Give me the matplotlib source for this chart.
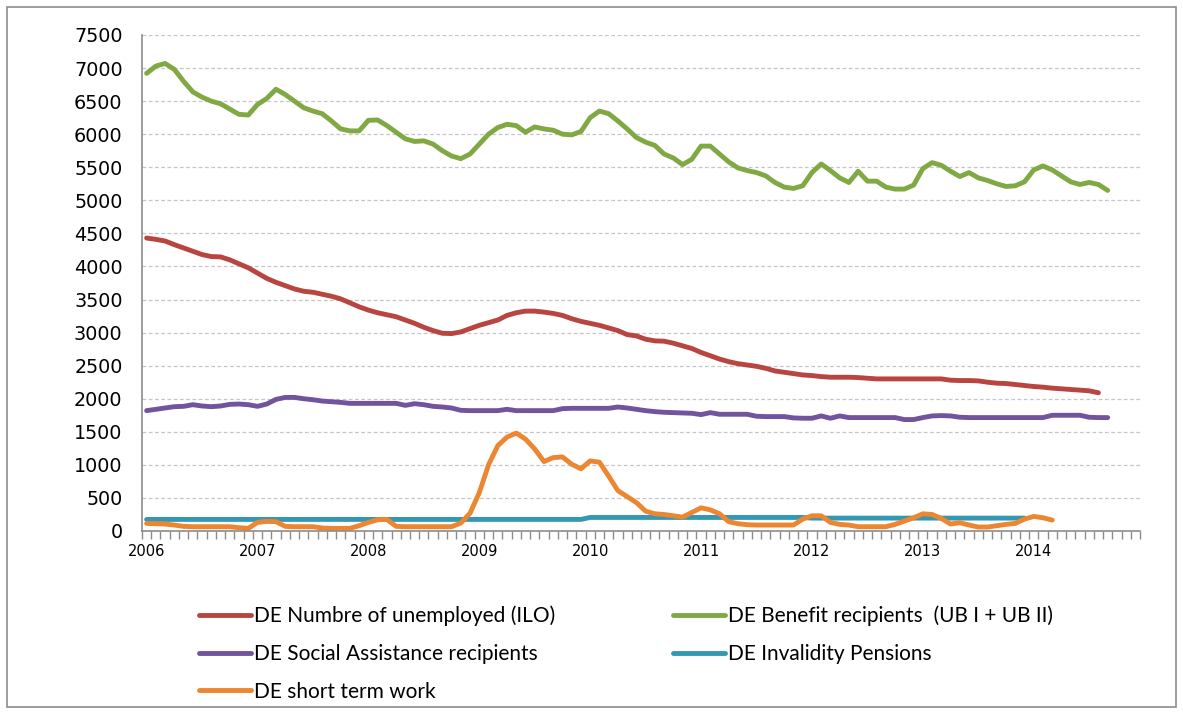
import numpy as np
import matplotlib
matplotlib.use('Agg')
from matplotlib import pyplot as plt
from matplotlib.patches import Rectangle

# monthly values, Jan 2006 onwards (thousands)
years = ['2006', '2007', '2008', '2009', '2010', '2011', '2012', '2013', '2014']

unemployed = [4430, 4410, 4385, 4330, 4280, 4230, 4180, 4150, 4145, 4100, 4040, 3980,
              3900, 3820, 3760, 3710, 3660, 3625, 3610, 3580, 3550, 3510, 3450, 3390,
              3340, 3300, 3270, 3240, 3190, 3140, 3080, 3030, 2990, 2985, 3010, 3060,
              3110, 3150, 3190, 3260, 3300, 3325, 3325, 3310, 3290, 3260, 3210, 3170,
              3140, 3110, 3070, 3030, 2970, 2950, 2900, 2875, 2870, 2840, 2800, 2760,
              2700, 2650, 2600, 2560, 2530, 2510, 2490, 2460, 2420, 2400, 2380, 2360,
              2350, 2335, 2325, 2325, 2325, 2320, 2310, 2300, 2300, 2300, 2300, 2300,
              2300, 2300, 2300, 2280, 2275, 2275, 2270, 2250, 2235, 2230, 2215, 2200,
              2185, 2175, 2160, 2150, 2140, 2130, 2120, 2090]

benefit = [6920, 7030, 7070, 6980, 6800, 6640, 6560, 6500, 6460, 6380, 6300, 6290,
           6450, 6540, 6680, 6600, 6500, 6400, 6350, 6310, 6200, 6080, 6050, 6050,
           6210, 6215, 6130, 6030, 5930, 5890, 5900, 5850, 5750, 5670, 5630, 5700,
           5850, 6000, 6100, 6150, 6130, 6030, 6110, 6080, 6060, 6000, 5990, 6040,
           6250, 6350, 6310, 6200, 6080, 5950, 5880, 5830, 5700, 5640, 5540, 5620,
           5820, 5820, 5700, 5580, 5490, 5450, 5420, 5370, 5270, 5200, 5180, 5220,
           5420, 5550, 5450, 5340, 5270, 5440, 5290, 5290, 5200, 5170, 5170, 5230,
           5480, 5570, 5530, 5440, 5360, 5420, 5340, 5300, 5250, 5210, 5220, 5280,
           5460, 5520, 5460, 5370, 5280, 5240, 5270, 5240, 5150]

social = [1820, 1840, 1860, 1880, 1885, 1910, 1890, 1880, 1890, 1915, 1920, 1910,
          1885, 1920, 1990, 2020, 2020, 2000, 1985, 1965, 1955, 1945, 1930, 1930,
          1930, 1930, 1930, 1930, 1900, 1925, 1910, 1885, 1875, 1860, 1825, 1820,
          1820, 1820, 1820, 1840, 1820, 1820, 1820, 1820, 1820, 1850, 1855, 1855,
          1855, 1855, 1855, 1875, 1860, 1840, 1820, 1805, 1795, 1790, 1785, 1780,
          1760, 1790, 1765, 1765, 1765, 1765, 1735, 1730, 1730, 1730, 1710, 1705,
          1705, 1740, 1705, 1740, 1715, 1715, 1715, 1715, 1715, 1715, 1685, 1685,
          1715, 1740, 1745, 1740, 1720, 1715, 1715, 1715, 1715, 1715, 1715, 1715,
          1715, 1715, 1750, 1750, 1750, 1750, 1720, 1715, 1715]

invalidity = [175] * 48 + [205] * 24 + [195] * 24

short_work = [115, 110, 105, 90, 70, 65, 65, 65, 65, 65, 50, 40,
              130, 145, 140, 70, 65, 65, 65, 45, 40, 40, 40, 80,
              130, 170, 175, 70, 65, 65, 65, 65, 65, 65, 120, 270,
              580, 1000, 1290, 1420, 1480, 1390, 1240, 1050, 1110, 1120, 1010, 940,
              1060, 1040, 830, 610, 520, 430, 300, 260, 250, 230, 210, 280,
              350, 320, 260, 140, 110, 95, 90, 90, 90, 90, 90, 180,
              230, 230, 130, 100, 90, 65, 65, 65, 65, 100, 150, 200,
              260, 250, 190, 105, 125, 90, 60, 60, 80, 100, 115, 180,
              220, 200, 165]

fig = plt.figure(figsize=(11.83, 7.13), dpi=100)
ax = fig.add_axes([142/1183, 1 - 531/713, (1140 - 142)/1183, (531 - 35)/713])

lw = 3.5
l_red, = ax.plot(np.arange(len(unemployed)), unemployed, color='#b8453f', lw=lw, solid_capstyle='round')
l_green, = ax.plot(np.arange(len(benefit)), benefit, color='#80a843', lw=lw, solid_capstyle='round')
l_purple, = ax.plot(np.arange(len(social)), social, color='#72539e', lw=lw, solid_capstyle='round')
l_teal, = ax.plot(np.arange(len(invalidity)), invalidity, color='#3398b3', lw=lw, solid_capstyle='round')
l_orange, = ax.plot(np.arange(len(short_work)), short_work, color='#ec8630', lw=lw, solid_capstyle='round')

# axes
ax.set_xlim(-0.5, 107.5)
ax.set_ylim(0, 7500)
ax.set_yticks(np.arange(0, 7501, 500))
ax.set_xticks(np.arange(0, 108, 12))
ax.set_xticklabels(years)
ax.set_xticks(np.arange(-0.5, 108, 1), minor=True)
ax.tick_params(axis='x', which='major', length=0, pad=9, labelsize=10.5)
ax.tick_params(axis='x', which='minor', length=6, width=1, color='#8c8c8c', direction='out')
ax.tick_params(axis='y', length=0, pad=14, labelsize=13.8)
ax.yaxis.grid(True, color='#c5c5cf', lw=0.9, linestyle=(0, (3, 2)))
ax.set_axisbelow(True)
for s in ['top', 'right']:
    ax.spines[s].set_visible(False)
for s in ['left', 'bottom']:
    ax.spines[s].set_color('#8c8c8c')
    ax.spines[s].set_linewidth(1.2)

# legend in two separate columns
lkw = dict(frameon=False, loc='upper left', handlelength=2.5, handletextpad=0.15,
           labelspacing=0.85, prop={'family': 'Lato', 'size': 15})
fig.legend([l_red, l_purple, l_orange],
           ['DE Numbre of unemployed (ILO)', 'DE Social Assistance recipients', 'DE short term work'],
           bbox_to_anchor=(180/1183, 1 - 587/713), **lkw)
fig.legend([l_green, l_teal],
           ['DE Benefit recipients  (UB I + UB II)', 'DE Invalidity Pensions'],
           bbox_to_anchor=(654/1183, 1 - 587/713), **lkw)

# outer chart frame
fig.patches.append(Rectangle((7/1183, 6/713), 1169/1183, 700/713, transform=fig.transFigure,
                             fill=False, edgecolor='#8c8c8c', lw=1.2))

plt.savefig('out.png', dpi=100)
